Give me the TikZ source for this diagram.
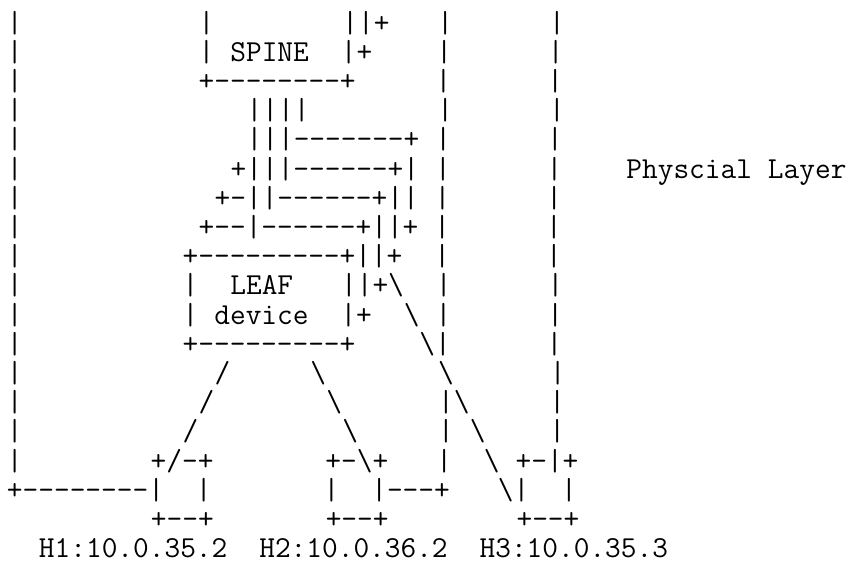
\documentclass[tikz,border=0pt]{standalone}
\newlength\cwid
\setlength\cwid{6pt}
\newcommand\gap[1]{\hspace*{#1\cwid}}
\newcommand\dsh[1]{\foreach\dshi in {1,...,#1}{\mbox{-}}}
\newcommand\bsl{\textbackslash}
\tikzset{asc/.style={anchor=base west, inner sep=0pt, outer sep=0pt,
  font=\fontsize{11.4286pt}{11pt}\selectfont\ttfamily}}
\begin{document}
\begin{tikzpicture}[x=1pt,y=1pt]
\useasboundingbox (0,0) rectangle (321,-211.125);
\def\lx{2.625}
\node[asc] (l1)  at (\lx,-12.00)  {|\gap{11}|\gap{8}||+\gap{3}|\gap{6}|};
\node[asc] (l2)  at (\lx,-22.95)  {|\gap{11}|\gap{1}SPINE\gap{2}|+\gap{4}|\gap{6}|};
\node[asc] (l3)  at (\lx,-33.90)  {|\gap{11}+\dsh{8}+\gap{5}|\gap{6}|};
\node[asc] (l4)  at (\lx,-44.85)  {|\gap{14}||||\gap{8}|\gap{6}|};
\node[asc] (l5)  at (\lx,-55.80)  {|\gap{14}|||\dsh{7}+\gap{1}|\gap{6}|};
\node[asc] (l6)  at (\lx,-66.75)  {|\gap{13}+|||\dsh{6}+|\gap{1}|\gap{6}|\gap{4}Physcial\gap{1}Layer};
\node[asc] (l7)  at (\lx,-77.70)  {|\gap{12}+\dsh{1}||\dsh{6}+||\gap{1}|\gap{6}|};
\node[asc] (l8)  at (\lx,-88.65)  {|\gap{11}+\dsh{2}|\dsh{6}+||+\gap{1}|\gap{6}|};
\node[asc] (l9)  at (\lx,-99.60)  {|\gap{10}+\dsh{9}+||+\gap{2}|\gap{6}|};
\node[asc] (l10) at (\lx,-110.55) {|\gap{10}|\gap{2}LEAF\gap{3}||+\bsl\gap{2}|\gap{6}|};
\node[asc] (l11) at (\lx,-121.50) {|\gap{10}|\gap{1}device\gap{2}|+\gap{2}\bsl\gap{1}|\gap{6}|};
\node[asc] (l12) at (\lx,-132.45) {|\gap{10}+\dsh{9}+\gap{4}\bsl|\gap{6}|};
\node[asc] (l13) at (\lx,-143.40) {|\gap{12}/\gap{5}\bsl\gap{7}\bsl\gap{6}|};
\node[asc] (l14) at (\lx,-154.35) {|\gap{11}/\gap{7}\bsl\gap{6}|\bsl\gap{5}|};
\node[asc] (l15) at (\lx,-165.30) {|\gap{10}/\gap{9}\bsl\gap{5}|\gap{1}\bsl\gap{4}|};
\node[asc] (l16) at (\lx,-176.25) {|\gap{8}+/\dsh{1}+\gap{7}+\dsh{1}\bsl+\gap{3}|\gap{2}\bsl\gap{1}+\dsh{1}|+};
\node[asc] (l17) at (\lx,-187.20) {+\dsh{8}|\gap{2}|\gap{7}|\gap{2}|\dsh{3}+\gap{3}\bsl|\gap{2}|};
\node[asc] (l18) at (\lx,-198.15) {\gap{9}+\dsh{2}+\gap{7}+\dsh{2}+\gap{8}+\dsh{2}+};
\node[asc] (l19) at (\lx,-209.10) {\gap{2}H1:10.0.35.2\gap{2}H2:10.0.36.2\gap{2}H3:10.0.35.3};
\end{tikzpicture}
\end{document}
